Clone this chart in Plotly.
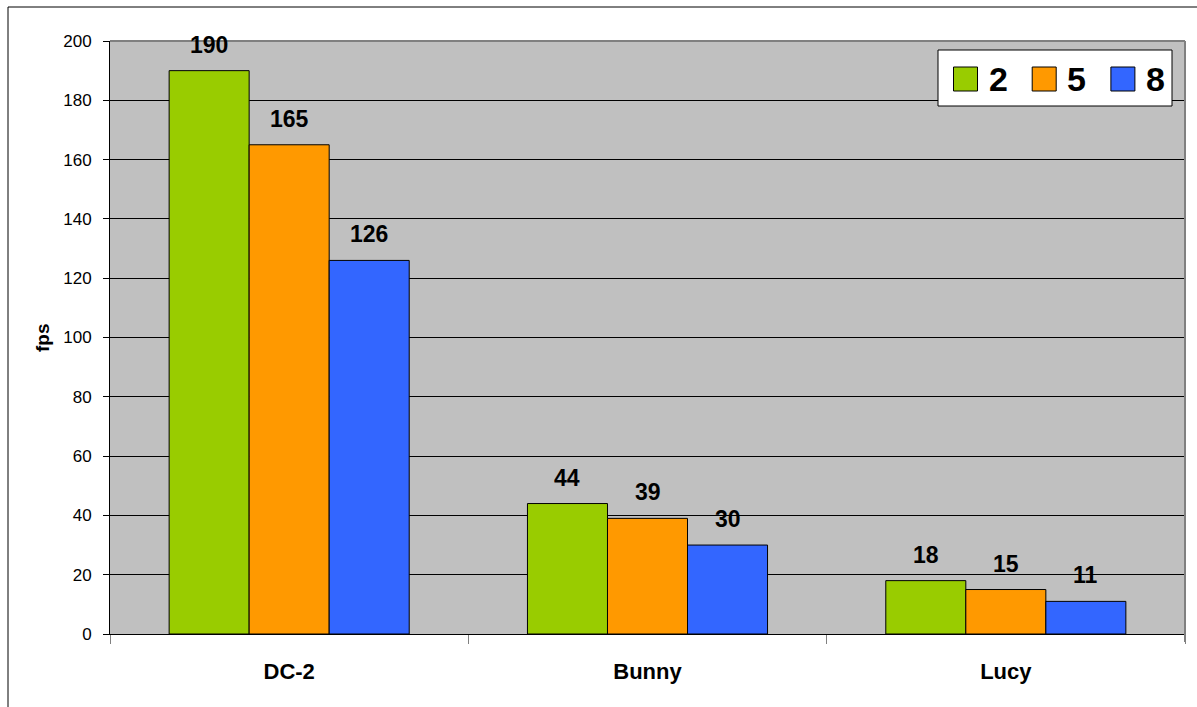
import plotly.graph_objects as go

categories = ["DC-2", "Bunny", "Lucy"]
series_names = ["2", "5", "8"]
series_values = [
    [190, 44, 18],
    [165, 39, 15],
    [126, 30, 11],
]
series_colors = ["#99CC00", "#FF9900", "#3366FF"]
y_ticks = [0, 20, 40, 60, 80, 100, 120, 140, 160, 180, 200]

FONT = "Arial, 'Liberation Sans', sans-serif"
W, H = 1197, 707
L, R, T, B = 110, 12, 41, 73
PW, PH = W - L - R, H - T - B
BARGAP = 0.33

def px(x):
    return (x - L) / PW

def py(y):
    return (H - B - y) / PH

fig = go.Figure()
for name, vals, col in zip(series_names, series_values, series_colors):
    fig.add_trace(go.Bar(
        x=categories, y=vals, name=name,
        marker=dict(color=col, line=dict(color="black", width=1)),
        showlegend=False,
    ))

# data labels
n = len(series_names)
bw = (1 - BARGAP) / n
for i, vals in enumerate(series_values):
    off = (i - (n - 1) / 2) * bw
    for j, v in enumerate(vals):
        fig.add_annotation(
            x=j + off, y=v, text=f"<b>{v}</b>", showarrow=False,
            xanchor="center", yanchor="middle", yshift=26,
            font=dict(family=FONT, size=23, color="black"),
        )

shapes = []
# outer border (left and top visible)
shapes.append(dict(type="rect", xref="paper", yref="paper",
                   x0=px(8), y0=py(760), x1=px(1260), y1=py(7),
                   line=dict(color="black", width=1), layer="below"))
# plot area top and right gray border
shapes.append(dict(type="line", xref="paper", yref="paper",
                   x0=0, x1=1, y0=1, y1=1, line=dict(color="#808080", width=2)))
shapes.append(dict(type="line", xref="paper", yref="paper",
                   x0=1, x1=1, y0=py(642), y1=1, line=dict(color="#808080", width=2)))

# legend (drawn)
lx0, lx1, ly0, ly1 = 938, 1172, 50, 106
shapes.append(dict(type="rect", xref="paper", yref="paper",
                   x0=px(lx0), x1=px(lx1), y0=py(ly1), y1=py(ly0),
                   fillcolor="white", line=dict(color="black", width=1)))
for i, (name, col) in enumerate(zip(series_names, series_colors)):
    sx = 953.5 + i * 78.7
    shapes.append(dict(type="rect", xref="paper", yref="paper",
                       x0=px(sx), x1=px(sx + 24), y0=py(91), y1=py(67),
                       fillcolor=col, line=dict(color="black", width=1)))
    fig.add_annotation(xref="paper", yref="paper", x=px(sx + 33), y=py(79),
                       xanchor="left", yanchor="middle", showarrow=False,
                       text=f"<b>{name}</b>",
                       font=dict(family=FONT, size=34, color="black"))

# y-axis title
fig.add_annotation(xref="paper", yref="paper", x=px(42), y=py(338),
                   xanchor="center", yanchor="middle",
                   text="<b>fps</b>", textangle=-90, showarrow=False,
                   font=dict(family=FONT, size=19, color="black"))

fig.update_layout(
    width=W, height=H,
    margin=dict(l=L, r=R, t=T, b=B, autoexpand=False),
    paper_bgcolor="white", plot_bgcolor="#C0C0C0",
    barmode="group", bargap=BARGAP, bargroupgap=0,
    showlegend=False,
    shapes=shapes,
    font=dict(family=FONT, color="black"),
)
fig.update_xaxes(
    type="category", showgrid=False, showline=True, linecolor="black", linewidth=1,
    ticks="outside", tickson="boundaries", ticklen=9, tickcolor="#808080",
    tickfont=dict(family=FONT, size=22, color="black"),
    tickprefix="<b>", ticksuffix="</b>", ticklabelstandoff=18,
    zeroline=False, fixedrange=True,
)
fig.update_yaxes(
    range=[0, 200], tickvals=y_ticks, showgrid=True, gridcolor="black", gridwidth=1,
    showline=True, linecolor="black", linewidth=1,
    ticks="outside", ticklen=6, tickcolor="black",
    tickfont=dict(family=FONT, size=17, color="black"), ticklabelstandoff=8,
    zeroline=False, fixedrange=True,
)

fig.write_html("out.html")
